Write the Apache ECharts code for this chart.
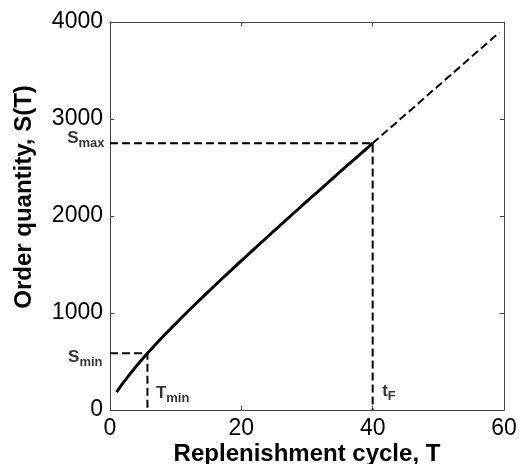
<!DOCTYPE html>
<html>
<head>
<meta charset="utf-8">
<script src="https://cdn.jsdelivr.net/npm/echarts@6/dist/echarts.min.js"></script>
<style>
html,body{margin:0;padding:0;background:#fff;}
#chart{width:519px;height:464px;}
</style>
</head>
<body>
<div id="chart"></div>
<script>
// ---- data ----
const curveT = [1, 2, 3, 4, 5.7, 8, 10, 12.7, 16, 19.7, 24, 28, 32, 36, 40];
const curveS = [185, 279, 367, 451, 585, 753, 891, 1072, 1286, 1520, 1786, 2031, 2273, 2513, 2750];
const extT = [40, 59.3];
const extS = [2750, 3893];
const T_MIN = 5.7, S_MIN = 585;
const T_F = 40, S_MAX = 2750;
const xTitle = 'Replenishment cycle, T';
const yTitle = 'Order quantity, S(T)';

const FONT = "'Liberation Sans', Arial, sans-serif";
const dash = [8, 4];

const chart = echarts.init(document.getElementById('chart'), null, {renderer: 'canvas'});

const axisLineStyle = {show: true, onZero: false, lineStyle: {color: '#444', width: 1}};
const tickStyle = {show: true, inside: true, length: 4, lineStyle: {color: '#444'}};

const subRich = {
  s: {fontFamily: FONT, fontWeight: 'bold', fontSize: 17, color: '#000', lineHeight: 24, verticalAlign: 'middle'},
  sub: {fontFamily: FONT, fontWeight: 'bold', fontSize: 13, color: '#000', lineHeight: 12, verticalAlign: 'bottom'}
};
const plain = v => String(v);

const option = {
  animation: false,
  backgroundColor: '#fff',
  grid: {left: 110, right: 15, top: 22, bottom: 54, containLabel: false, outerBoundsMode: 'none'},
  xAxis: [{
    type: 'value', min: 0, max: 60, interval: 20, position: 'bottom',
    axisLine: axisLineStyle, axisTick: tickStyle, splitLine: {show: false},
    axisLabel: {fontFamily: FONT, fontSize: 23, color: '#000', margin: 7, formatter: plain},
    name: xTitle, nameLocation: 'middle', nameGap: 32, nameMoveOverlap: false,
    nameTextStyle: {fontFamily: FONT, fontWeight: 'bold', fontSize: 24, color: '#000'}
  }, {
    type: 'value', min: 0, max: 60, interval: 20, position: 'top',
    axisLine: axisLineStyle, axisTick: tickStyle, splitLine: {show: false},
    axisLabel: {show: false}
  }],
  yAxis: [{
    type: 'value', min: 0, max: 4000, interval: 1000, position: 'left',
    axisLine: axisLineStyle, axisTick: tickStyle, splitLine: {show: false},
    axisLabel: {fontFamily: FONT, fontSize: 23, color: '#000', margin: 7, formatter: plain}
  }, {
    type: 'value', min: 0, max: 4000, interval: 1000, position: 'right',
    axisLine: axisLineStyle, axisTick: tickStyle, splitLine: {show: false},
    axisLabel: {show: false}
  }],
  graphic: [{
    type: 'text', x: 24, y: 197, rotation: Math.PI / 2,
    style: {
      text: yTitle, font: "bold 24px " + FONT, fill: '#000',
      align: 'center', verticalAlign: 'middle',
      textAlign: 'center', textVerticalAlign: 'middle'
    }
  }],
  series: [
    {
      type: 'line', symbol: 'none', z: 2,
      data: [[0, S_MIN], [T_MIN, S_MIN], [T_MIN, 0]],
      lineStyle: {color: '#000', width: 2, type: dash}
    },
    {
      type: 'line', symbol: 'none', z: 2,
      data: [[0, S_MAX], [T_F, S_MAX], [T_F, 0]],
      lineStyle: {color: '#000', width: 2, type: dash}
    },
    {
      type: 'line', symbol: 'none', z: 2,
      data: extT.map((t, i) => [t, extS[i]]),
      lineStyle: {color: '#000', width: 2, type: dash}
    },
    {
      type: 'line', symbol: 'none', z: 3, smooth: 0.3,
      data: curveT.map((t, i) => [t, curveS[i]]),
      lineStyle: {color: '#000', width: 3}
    },
    {
      type: 'scatter', symbolSize: 1, z: 4, clip: false,
      itemStyle: {color: 'transparent'},
      data: [
        {value: [0, S_MIN], label: {show: true, position: 'left', distance: 7, offset: [0, 4],
          formatter: '{s|S}{sub|min}', rich: subRich}},
        {value: [0, S_MAX], label: {show: true, position: 'left', distance: 5, offset: [0, -5],
          formatter: '{s|S}{sub|max}', rich: subRich}},
        {value: [T_MIN, 0], label: {show: true, position: 'right', distance: 8, offset: [0, -17],
          formatter: '{s|T}{sub|min}', rich: subRich}},
        {value: [T_F, 0], label: {show: true, position: 'right', distance: 9, offset: [0, -19],
          formatter: '{s|t}{sub|F}', rich: subRich}}
      ]
    }
  ]
};
chart.setOption(option);
</script>
</body>
</html>
